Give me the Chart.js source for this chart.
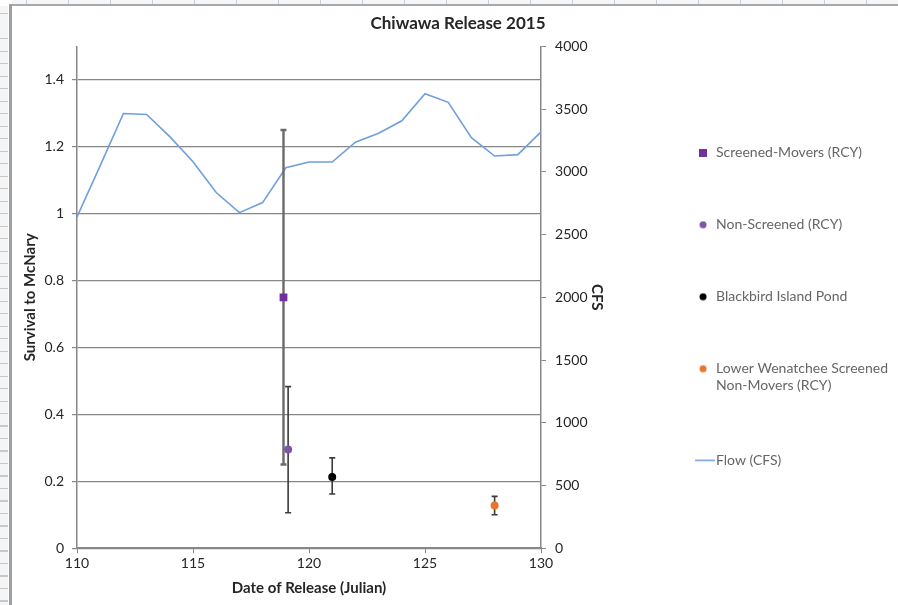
<!DOCTYPE html>
<html lang="en">
<head>
<meta charset="UTF-8">
<title>Chiwawa Release 2015</title>
<script src="https://cdn.jsdelivr.net/npm/chart.js"></script>
<style>
    html, body { margin: 0; padding: 0; background: #fff; }
    body { width: 898px; height: 605px; position: relative; overflow: hidden; font-family: Lato, sans-serif; }
    /* sheet rulers + frame around the embedded chart */
    .ruler-top { position: absolute; left: 12px; top: 0; right: 0; height: 4px; background: #f4f5f7;
        background-image: repeating-linear-gradient(to right, transparent 0 14px, #c6d0dc 14px 15px, transparent 15px 42px); }
    .ruler-left { position: absolute; left: 0; top: 6px; bottom: 0; width: 8px; background: #f4f5f7;
        background-image: repeating-linear-gradient(to bottom, transparent 0 7px, #c9c9c9 7px 8px, transparent 8px 12.5px); }
    .frame-top { position: absolute; left: 9px; top: 4px; right: 0; height: 2px; background: #a8a8a8; }
    .frame-left { position: absolute; left: 9px; top: 4px; bottom: 0; width: 3px; background: #9e9e9e; }
    .chart-box { position: absolute; left: 12px; top: 6px; width: 886px; height: 599px; }
</style>
</head>
<body>
<div class="ruler-top"></div>
<div class="ruler-left"></div>
<div class="frame-top"></div>
<div class="frame-left"></div>
<div class="chart-box"><canvas id="releaseChart"></canvas></div>

<script>
// flow at the release site, one reading per Julian day
const flowDays = [110, 111, 112, 113, 114, 115, 116, 117, 118, 119, 120, 121, 122, 123, 124, 125, 126, 127, 128, 129, 130];
const flowCfs = [2640, 3050, 3465, 3457, 3281, 3081, 2835, 2675, 2755, 3033, 3078, 3078, 3236, 3308, 3407, 3623, 3554, 3273, 3126, 3137, 3319];

// release groups (survival to McNary, with error bars)
const groupNames = ['Screened-Movers (RCY)', 'Non-Screened (RCY)', 'Blackbird Island Pond', 'Lower Wenatchee Screened Non-Movers (RCY)'];
const releaseDay = [118.9, 119.1, 121, 128];
const survival = [0.75, 0.295, 0.213, 0.128];
const survivalLow = [0.25, 0.106, 0.162, 0.10];
const survivalHigh = [1.25, 0.483, 0.27, 0.155];
const flowName = 'Flow (CFS)';

const groupColors = ['#7030a0', '#7f55a8', '#000000', '#e8762d'];
const groupShapes = ['rect', 'circle', 'circle', 'circle'];
const flowColor = '#6f9fdc';
const axisGrey = '#878787';
const textColor = '#262626';

function wrapLabel(text, maxChars) {
    if (text.length <= maxChars) return text;
    const cut = text.lastIndexOf(' ', maxChars);
    return [text.slice(0, cut), text.slice(cut + 1)];
}

// small canvases used as legend symbols
function legendMarker(shape, color) {
    const c = document.createElement('canvas');
    const g = c.getContext('2d');
    if (shape === 'line') {
        c.width = 24; c.height = 3;
        g.strokeStyle = color; g.lineWidth = 1.5;
        g.beginPath(); g.moveTo(4, 1.5); g.lineTo(24, 1.5); g.stroke();
    } else if (shape === 'rect') {
        c.width = 8; c.height = 8;
        g.fillStyle = color; g.fillRect(0, 0, 8, 8);
    } else {
        c.width = 8; c.height = 8;
        g.fillStyle = color; g.beginPath(); g.arc(4, 4, 3.5, 0, Math.PI * 2); g.fill();
    }
    return c;
}

const errorBars = {
    id: 'errorBars',
    beforeDatasetDraw(chart, args) {
        const ds = chart.data.datasets[args.index];
        if (!ds.errLow) return;
        const { ctx, scales } = chart;
        ctx.save();
        ctx.strokeStyle = ds.errColor;
        ctx.lineWidth = ds.errWidth;
        ds.data.forEach((pt, j) => {
            const px = scales.x.getPixelForValue(pt.x);
            const top = scales.y.getPixelForValue(ds.errHigh[j]);
            const bot = scales.y.getPixelForValue(ds.errLow[j]);
            ctx.beginPath();
            ctx.moveTo(px, top); ctx.lineTo(px, bot);
            ctx.moveTo(px - 3, top); ctx.lineTo(px + 3, top);
            ctx.moveTo(px - 3, bot); ctx.lineTo(px + 3, bot);
            ctx.stroke();
        });
        ctx.restore();
    }
};

const datasets = groupNames.map((name, i) => ({
    label: name,
    data: [{ x: releaseDay[i], y: survival[i] }],
    errLow: [survivalLow[i]],
    errHigh: [survivalHigh[i]],
    errColor: i === 0 ? '#6b6b6b' : '#3c3c3c',
    errWidth: i === 0 ? 2.4 : 1.6,
    yAxisID: 'y',
    pointStyle: groupShapes[i],
    pointRadius: groupShapes[i] === 'rect' ? 5.5 : 4,
    pointBackgroundColor: groupColors[i],
    pointBorderWidth: 0,
    order: i
}));
datasets.push({
    label: flowName,
    data: flowDays.map((d, i) => ({ x: d, y: flowCfs[i] })),
    yAxisID: 'y2',
    showLine: true,
    borderColor: flowColor,
    borderWidth: 1.6,
    pointRadius: 0,
    tension: 0,
    order: 10
});

const tickFont = { family: 'Lato', size: 14 };
const titleFont = { family: 'Lato', size: 15, weight: 'bold' };

new Chart(document.getElementById('releaseChart'), {
    type: 'scatter',
    data: { datasets },
    plugins: [errorBars],
    options: {
        responsive: true,
        maintainAspectRatio: false,
        animation: false,
        layout: { padding: { left: 6, right: 0, top: 0, bottom: 4 } },
        plugins: {
            title: {
                display: true, text: 'Chiwawa Release 2015', color: textColor,
                font: { family: 'Lato', size: 17, weight: 'bold' },
                padding: { top: 7, bottom: 13 }
            },
            tooltip: { enabled: false },
            legend: {
                position: 'right',
                align: 'center',
                maxWidth: 320,
                // empty title only nudges the column of entries down a little
                title: { display: true, text: '', font: { size: 5 }, padding: 0 },
                labels: {
                    usePointStyle: true,
                    boxWidth: 12,
                    boxHeight: 8,
                    padding: 58,
                    color: textColor,
                    font: { family: 'Lato', size: 14 },
                    generateLabels(chart) {
                        return chart.data.datasets.map((ds, i) => ({
                            text: wrapLabel(ds.label, 25),
                            pointStyle: ds.showLine ? legendMarker('line', flowColor) : legendMarker(groupShapes[i], groupColors[i]),
                            fillStyle: ds.showLine ? flowColor : groupColors[i],
                            strokeStyle: 'transparent',
                            lineWidth: 0,
                            hidden: false,
                            datasetIndex: i
                        }));
                    }
                }
            }
        },
        scales: {
            x: {
                type: 'linear', min: 110, max: 130,
                ticks: { stepSize: 5, color: textColor, font: tickFont, padding: 2 },
                grid: { drawOnChartArea: false, tickLength: 5, color: axisGrey },
                border: { color: axisGrey, width: 1.5 },
                title: { display: true, text: 'Date of Release (Julian)', color: textColor, font: titleFont, padding: { top: 5, bottom: 4 } }
            },
            y: {
                position: 'left', min: 0, max: 1.5,
                afterBuildTicks(scale) { scale.ticks = scale.ticks.filter(t => t.value < 1.45); },
                afterFit(scale) { scale.width = 59; },
                ticks: { stepSize: 0.2, color: textColor, font: tickFont, padding: 8,
                    callback: v => String(Math.round(v * 10) / 10) },
                grid: { color: axisGrey, lineWidth: 1.2, tickLength: 5 },
                border: { color: axisGrey, width: 1.5 },
                title: { display: true, text: 'Survival to McNary', color: textColor, font: titleFont, padding: { top: 3, bottom: 4 } }
            },
            y2: {
                position: 'right', min: 0, max: 4000,
                afterFit(scale) { scale.width = 98; },
                ticks: { stepSize: 500, color: textColor, font: tickFont, padding: 9,
                    callback: v => String(v) },
                grid: { drawOnChartArea: false, tickLength: 5, color: axisGrey },
                border: { color: axisGrey, width: 1.5 },
                title: { display: true, text: 'CFS', color: textColor, font: titleFont, padding: { top: 33, bottom: 0 } }
            }
        }
    }
});
</script>
</body>
</html>
